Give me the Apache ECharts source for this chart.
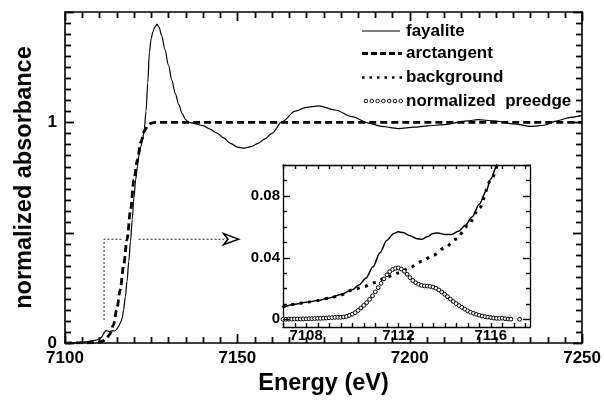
<!DOCTYPE html>
<html>
<head>
<meta charset="utf-8">
<script src="https://cdn.jsdelivr.net/npm/echarts@6/dist/echarts.min.js"></script>
<style>
  html, body { margin: 0; padding: 0; background: #fff; }
  #chart { width: 604px; height: 401px; }
</style>
</head>
<body>
<div id="chart"></div>
<script>
// Fe K-edge XANES of fayalite, normalized, with edge-step model and pre-edge extraction

const fayaliteEnergy = [
  7100, 7102, 7104, 7106, 7107.0, 7107.5, 7108.0, 7108.5, 7109.0, 7109.5,
  7110.0, 7110.3, 7110.6, 7110.9, 7111.2, 7111.5, 7111.8, 7112.0, 7112.2, 7112.5,
  7112.8, 7113.0, 7113.25, 7113.5, 7113.7, 7114.0, 7114.3, 7114.6, 7114.9, 7115.2,
  7115.5, 7115.8, 7116.0, 7116.3, 7116.6, 7117.0, 7117.5, 7118.0, 7118.5, 7119.0,
  7119.5, 7120.0, 7120.5, 7121.0, 7121.5, 7122.0, 7122.5, 7123.0, 7123.5, 7124.0,
  7124.5, 7125.0, 7125.5, 7126.0, 7126.7, 7127.3, 7128.0, 7129.0, 7130.0, 7131.0,
  7132.0, 7133.0, 7134.0, 7135.0, 7136.0, 7138.0, 7140.0, 7142.0, 7144.0, 7146.0,
  7148.0, 7150.0, 7152.0, 7154.0, 7156.0, 7158.0, 7160.0, 7163.0, 7166.8, 7170.0,
  7173.6, 7178.4, 7183.2, 7188.0, 7191.8, 7196.6, 7201.4, 7205.0, 7210.1, 7216.8,
  7219.7, 7224.5, 7230.3, 7235.1, 7238.9, 7242.8, 7246.6, 7250.0
];
const fayaliteValue = [
  0.000, 0.002, 0.003, 0.006, 0.0082, 0.0097, 0.0110, 0.0122, 0.0138, 0.0160,
  0.0192, 0.0224, 0.0268, 0.0340, 0.0432, 0.0512, 0.0556, 0.0567, 0.0562, 0.0542,
  0.0522, 0.0518, 0.0535, 0.0556, 0.0560, 0.0550, 0.0550, 0.0570, 0.0610, 0.0665,
  0.0745, 0.0830, 0.0910, 0.1010, 0.114, 0.150, 0.210, 0.280, 0.370, 0.460,
  0.560, 0.660, 0.740, 0.800, 0.855, 0.890, 0.920, 0.970, 1.050, 1.180,
  1.320, 1.380, 1.410, 1.430, 1.445, 1.430, 1.395, 1.330, 1.260, 1.190,
  1.130, 1.080, 1.040, 1.012, 1.000, 0.993, 0.985, 0.970, 0.952, 0.930,
  0.905, 0.888, 0.883, 0.890, 0.905, 0.925, 0.950, 1.004, 1.051, 1.068,
  1.075, 1.056, 1.026, 0.997, 0.982, 0.972, 0.978, 0.984, 0.990, 1.007,
  1.012, 1.007, 0.993, 0.982, 0.987, 1.007, 1.023, 1.032
];

const arctanEnergy = [
  7100, 7105, 7108, 7110, 7111, 7112, 7113, 7114, 7115, 7116,
  7117, 7118, 7119, 7120, 7121, 7122, 7123, 7124, 7125, 7126, 7250
];
const arctanValue = [
  0.000, 0.001, 0.002, 0.005, 0.010, 0.020, 0.040, 0.080, 0.150, 0.240,
  0.350, 0.470, 0.600, 0.740, 0.830, 0.910, 0.960, 0.985, 0.996, 1.000, 1.000
];

const backgroundEnergy = [
  7107.0, 7107.5, 7108.0, 7108.5, 7109.0, 7109.5, 7110.0, 7110.5, 7111.0, 7111.5,
  7112.0, 7112.5, 7113.0, 7113.5, 7114.0, 7114.5, 7115.0, 7115.5, 7116.0, 7116.3
];
const backgroundValue = [
  0.0082, 0.0097, 0.0110, 0.0122, 0.0137, 0.0157, 0.0190, 0.0212, 0.0238, 0.0274,
  0.0300, 0.0336, 0.0374, 0.0414, 0.0462, 0.0520, 0.0605, 0.0720, 0.0900, 0.1010
];

const preedgeEnergy = [
  7107.000, 7107.125, 7107.250, 7107.375, 7107.500, 7107.625, 7107.750, 7107.875,
  7108.000, 7108.125, 7108.250, 7108.375, 7108.500, 7108.625, 7108.750, 7108.875,
  7109.000, 7109.125, 7109.250, 7109.375, 7109.500, 7109.625, 7109.750, 7109.875,
  7110.000, 7110.125, 7110.250, 7110.375, 7110.500, 7110.625, 7110.750, 7110.875,
  7111.000, 7111.125, 7111.250, 7111.375, 7111.500, 7111.625, 7111.750, 7111.875,
  7112.000, 7112.125, 7112.250, 7112.375, 7112.500, 7112.625, 7112.750, 7112.875,
  7113.000, 7113.125, 7113.250, 7113.375, 7113.500, 7113.625, 7113.750, 7113.875,
  7114.000, 7114.125, 7114.250, 7114.375, 7114.500, 7114.625, 7114.750, 7114.875,
  7115.000, 7115.125, 7115.250, 7115.375, 7115.500, 7115.625, 7115.750, 7115.875,
  7116.000, 7116.125, 7116.250, 7116.375, 7116.500, 7116.625, 7116.750, 7116.875,
  7117.250
];
const preedgeValue = [
  0.0000, 0.0000, 0.0001, 0.0001, 0.0002, 0.0002, 0.0002, 0.0003,
  0.0003, 0.0004, 0.0004, 0.0005, 0.0006, 0.0006, 0.0007, 0.0008,
  0.0010, 0.0011, 0.0012, 0.0013, 0.0013, 0.0015, 0.0018, 0.0025,
  0.0033, 0.0043, 0.0057, 0.0073, 0.0090, 0.0108, 0.0129, 0.0152,
  0.0178, 0.0205, 0.0233, 0.0262, 0.0288, 0.0309, 0.0323, 0.0331,
  0.0333, 0.0326, 0.0312, 0.0292, 0.0270, 0.0251, 0.0237, 0.0227,
  0.0220, 0.0216, 0.0215, 0.0213, 0.0209, 0.0201, 0.0190, 0.0177,
  0.0162, 0.0147, 0.0131, 0.0116, 0.0102, 0.0089, 0.0077, 0.0066,
  0.0055, 0.0046, 0.0039, 0.0032, 0.0026, 0.0021, 0.0017, 0.0014,
  0.0011, 0.0008, 0.0006, 0.0006, 0.0007, 0.0004, 0.0002, 0.0001,
  0.0000
];

// tick labels
const mainXLabels = [7100, 7150, 7200, 7250];
const mainYLabels = [0, 1];
const insetXLabels = [7108, 7112, 7116];
const insetYLabels = [0, 0.04, 0.08];

// axis ranges
const mainXRange = [7100, 7250];
const mainYRange = [0, 1.5];
const insetXRange = [7107, 7117.7];
const insetYRange = [-0.005, 0.1];

// zoom pointer from the pre-edge region towards the inset (data coordinates)
const pointerLead = [[7111.33, 0.105], [7111.33, 0.4706], [7116.35, 0.4706]];
const pointerTail = [[7121.35, 0.4706], [7146.2, 0.4706]];
const pointerHead = [[7148.2, 0.4706]];

const pairs = (xs, ys) => xs.map((x, i) => [x, ys[i]]);

// tick mark positions along a frame side: every `step` from `from` to `to`,
// long marks where the value is a multiple of `major`
function tickMarks(from, to, step, major) {
  const out = [];
  const n = Math.round((to - from) / step);
  for (let i = 0; i <= n; i++) {
    const v = +(from + i * step).toFixed(4);
    const r = v / major;
    out.push([v, Math.abs(r - Math.round(r)) < 1e-6]);
  }
  return out;
}

const FONT = '"Liberation Sans", Arial, Helvetica, sans-serif';
const INK = '#000';

// inward tick marks on both opposite sides of a grid frame
function frameTicks(axisIdx, dim, marks, shortLen, longLen, width) {
  const isX = dim === 'x';
  return {
    type: 'custom', xAxisIndex: axisIdx, yAxisIndex: axisIdx, z: 9, clip: false, silent: true,
    dimensions: ['pos', 'len'],
    data: marks.map(m => [m[0], m[1] ? longLen : shortLen]),
    encode: isX ? { x: 'pos' } : { y: 'pos' },
    renderItem(params, api) {
      const cs = params.coordSys;
      const v = api.value(0);
      const len = api.value(1);
      const style = { stroke: INK, lineWidth: width, fill: null };
      if (isX) {
        const px = Math.round(api.coord([v, 0])[0]) + 0.5;
        const b = cs.y + cs.height;
        return { type: 'group', children: [
          { type: 'line', shape: { x1: px, y1: b, x2: px, y2: b - len }, style },
          { type: 'line', shape: { x1: px, y1: cs.y, x2: px, y2: cs.y + len }, style }
        ] };
      }
      const py = Math.round(api.coord([0, v])[1]) + 0.5;
      const r = cs.x + cs.width;
      return { type: 'group', children: [
        { type: 'line', shape: { x1: cs.x, y1: py, x2: cs.x + len, y2: py }, style },
        { type: 'line', shape: { x1: r, y1: py, x2: r - len, y2: py }, style }
      ] };
    }
  };
}

function frameAxis(extra, lineWidth) {
  return Object.assign({
    type: 'value',
    axisLine: { show: true, onZero: false, lineStyle: { color: INK, width: lineWidth } },
    axisTick: { show: false },
    axisLabel: { show: false },
    splitLine: { show: false }
  }, extra);
}

const labelStyle = (size, extra) => Object.assign({
  show: true, color: INK, fontFamily: FONT, fontWeight: 'bold', fontSize: size
}, extra);

const nameStyle = { color: INK, fontFamily: FONT, fontWeight: 'bold', fontSize: 23.5 };
const MX = { gridIndex: 0, min: mainXRange[0], max: mainXRange[1] };
const MY = { gridIndex: 0, min: mainYRange[0], max: mainYRange[1] };
const IX = { gridIndex: 1, min: insetXRange[0], max: insetXRange[1], z: 6 };
const IY = { gridIndex: 1, min: insetYRange[0], max: insetYRange[1], z: 6 };

// axis indices: 0/1 main (bottom-left / top-right), 2/3 inset
const MAIN = 0;
const INSET = 2;

const chart = echarts.init(document.getElementById('chart'), null, { renderer: 'canvas' });

chart.setOption({
  animation: false,
  backgroundColor: '#fff',
  grid: [
    { left: 65, right: 19, top: 12, bottom: 47 },
    { left: 283, right: 74, top: 165, bottom: 74, show: true, backgroundColor: '#fff', borderWidth: 0, z: 5 }
  ],
  xAxis: [
    frameAxis(Object.assign({}, MX, {
      position: 'bottom',
      axisLabel: labelStyle(17, { customValues: mainXLabels, margin: 7, formatter: v => String(v) }),
      name: 'Energy (eV)', nameLocation: 'middle', nameGap: 22, nameTextStyle: nameStyle
    }), 1.6),
    frameAxis(Object.assign({}, MX, { position: 'top' }), 1.6),
    frameAxis(Object.assign({}, IX, {
      position: 'bottom',
      axisLabel: labelStyle(15, { customValues: insetXLabels, margin: 1, formatter: v => String(v) })
    }), 1.3),
    frameAxis(Object.assign({}, IX, { position: 'top' }), 1.3)
  ],
  yAxis: [
    frameAxis(Object.assign({}, MY, {
      position: 'left',
      axisLabel: labelStyle(17, { customValues: mainYLabels, margin: 8, formatter: v => String(v) }),
      name: 'normalized absorbance', nameLocation: 'middle', nameGap: 24, nameTextStyle: nameStyle
    }), 1.6),
    frameAxis(Object.assign({}, MY, { position: 'right' }), 1.6),
    frameAxis(Object.assign({}, IY, {
      position: 'left',
      axisLabel: labelStyle(15, {
        customValues: insetYLabels, margin: 3,
        formatter: v => (v === 0 ? '0' : v.toFixed(2))
      })
    }), 1.3),
    frameAxis(Object.assign({}, IY, { position: 'right' }), 1.3)
  ],
  series: [
    frameTicks(MAIN, 'x', tickMarks(7100, 7250, 5, 50), 6, 9, 1.8),
    frameTicks(MAIN, 'y', tickMarks(0, 1.5, 0.05, 0.5), 6, 9, 1.8),
    {
      name: 'fayalite', type: 'line', xAxisIndex: MAIN, yAxisIndex: MAIN,
      data: pairs(fayaliteEnergy, fayaliteValue),
      showSymbol: false, smooth: 0.3, smoothMonotone: 'x',
      lineStyle: { color: INK, width: 1.2 }
    },
    {
      name: 'arctangent', type: 'line', xAxisIndex: MAIN, yAxisIndex: MAIN,
      data: pairs(arctanEnergy, arctanValue),
      showSymbol: false, smooth: 0.3, smoothMonotone: 'x',
      lineStyle: { color: INK, width: 2.8, type: [7, 4], cap: 'butt' }
    },
    {
      type: 'line', xAxisIndex: MAIN, yAxisIndex: MAIN, data: pointerLead, showSymbol: false,
      lineStyle: { color: '#222', width: 1, type: [2, 2] }
    },
    {
      type: 'line', xAxisIndex: MAIN, yAxisIndex: MAIN, data: pointerTail, showSymbol: false,
      lineStyle: { color: '#222', width: 1, type: [2, 2] }
    },
    {
      type: 'scatter', xAxisIndex: MAIN, yAxisIndex: MAIN, data: pointerHead,
      symbol: 'path://M0,0 L16,5.5 L0,11 L4.5,5.5 Z', symbolSize: [15, 11],
      itemStyle: { color: '#fff', borderColor: INK, borderWidth: 1.6, opacity: 1 }
    },
    frameTicks(INSET, 'x', tickMarks(7107, 7117.5, 0.5, 4), 4, 4, 1.4),
    frameTicks(INSET, 'y', tickMarks(0, 0.1, 0.01, 0.04), 4, 7, 1.4),
    {
      name: 'fayalite', type: 'line', xAxisIndex: INSET, yAxisIndex: INSET, z: 7,
      data: pairs(fayaliteEnergy, fayaliteValue),
      showSymbol: false, smooth: 0.3, smoothMonotone: 'x', clip: true,
      lineStyle: { color: INK, width: 1.5 }
    },
    {
      name: 'background', type: 'line', xAxisIndex: INSET, yAxisIndex: INSET, z: 7,
      data: pairs(backgroundEnergy, backgroundValue),
      showSymbol: false, smooth: 0.3, smoothMonotone: 'x', clip: true,
      lineStyle: { color: INK, width: 3, type: [3, 5.5], cap: 'butt' }
    },
    {
      name: 'normalized preedge', type: 'scatter', xAxisIndex: INSET, yAxisIndex: INSET, z: 8,
      data: pairs(preedgeEnergy, preedgeValue), clip: true,
      symbol: 'circle', symbolSize: 3.8,
      itemStyle: { color: '#fff', borderColor: INK, borderWidth: 1, opacity: 1 }
    }
  ],
  graphic: [
    { type: 'line', z: 20, shape: { x1: 362, y1: 31, x2: 400, y2: 31 }, style: { stroke: INK, lineWidth: 1.2 } },
    { type: 'line', z: 20, shape: { x1: 362, y1: 53.5, x2: 402, y2: 53.5 }, style: { stroke: INK, lineWidth: 2.8, lineDash: [6, 3] } },
    { type: 'line', z: 20, shape: { x1: 362, y1: 77.5, x2: 402, y2: 77.5 }, style: { stroke: INK, lineWidth: 2.6, lineDash: [2.5, 5] } }
  ].concat([0, 1, 2, 3, 4, 5, 6].map(i => ({
    type: 'circle', z: 20, shape: { cx: 366 + i * 5.8, cy: 101, r: 1.8 },
    style: { fill: '#fff', stroke: INK, lineWidth: 0.9 }
  }))).concat(['fayalite', 'arctangent', 'background', 'normalized  preedge'].map((t, i) => ({
    type: 'text', z: 20, x: 406, y: [31, 53.5, 77.5, 101][i],
    style: { text: t, fill: INK, font: 'bold 17px ' + FONT, verticalAlign: 'middle' }
  })))
});
</script>
</body>
</html>
